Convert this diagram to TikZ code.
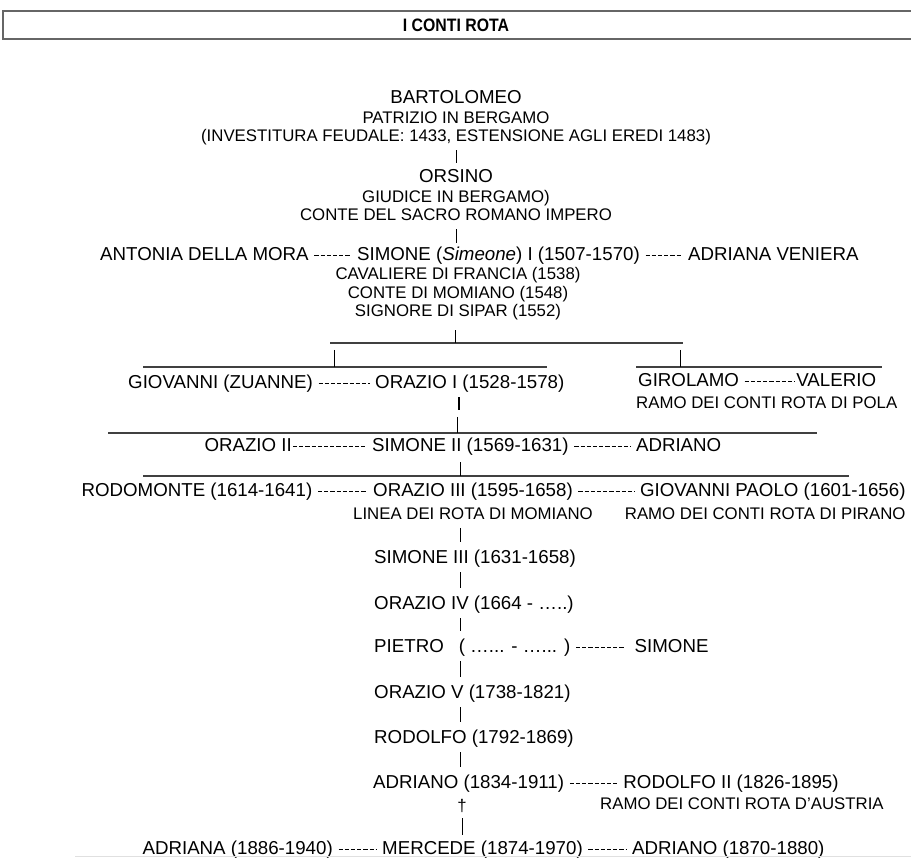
\documentclass[tikz,border=0pt]{standalone}
\usepackage{fontspec}
\setmainfont{Liberation Sans}
\usepackage{graphicx}
\usetikzlibrary{positioning}

\begin{document}
\begin{tikzpicture}[
  x=1pt,y=-1pt,
  person/.style={inner sep=0pt,text height=13.5pt,text depth=3.2pt,
    font=\fontsize{18.7}{22}\selectfont},
  note/.style={inner sep=0pt,text height=12.1pt,text depth=2.9pt,
    font=\fontsize{16.8}{20}\selectfont},
  heading/.style={inner sep=0pt,font=\fontsize{18}{21}\selectfont\bfseries},
  marriage/.style={line width=1pt,dash pattern=on 4.2pt off 2pt,
    shorten <=5.5pt,shorten >=5.5pt},
  link/.style={line width=0.9pt,shorten <=5pt,shorten >=8pt},
  heavylink/.style={line width=2.2pt},
  bar/.style={line width=1.3pt,draw=black!75}
]
  \useasboundingbox (0,0) rectangle (911,858);

  % title
  \draw[line width=1.2pt,draw=black!60] (3,11) rectangle (918,39);
  \node[heading] (title) at (456,25) {\scalebox{0.88}[1]{I CONTI ROTA}};

  % first generations
  \node[person] (bart) at (456,98.5) {BARTOLOMEO};
  \node[note] (bartpatr) at (456,118.5) {PATRIZIO IN BERGAMO};
  \node[note] (bartinv) at (456,136.5) {(INVESTITURA FEUDALE: 1433, ESTENSIONE AGLI EREDI 1483)};

  \node[person] (orsino) at (456,177.5) {ORSINO};
  \node[note] (orsgiud) at (456,197.5) {GIUDICE IN BERGAMO)};
  \node[note] (orsconte) at (456,215.5) {CONTE DEL SACRO ROMANO IMPERO};

  \node[person,anchor=west] (antonia) at (100,255.5) {ANTONIA DELLA MORA};
  \node[person,right=48pt of antonia] (simone1) {SIMONE (\textit{Simeone}) I (1507-1570)};
  \node[person,right=48pt of simone1] (adriana1) {ADRIANA VENIERA};
  \node[note] (simcav) at (458,274.5) {CAVALIERE DI FRANCIA (1538)};
  \node[note] (simmom) at (458,293.5) {CONTE DI MOMIANO (1548)};
  \node[note] (simsign) at (458,311.5) {SIGNORE DI SIPAR (1552)};

  % children of Simone I
  \node[person,anchor=west] (orazio1) at (375,383.5) {ORAZIO I (1528-1578)};
  \node[person,left=62pt of orazio1] (giovanni) {GIOVANNI (ZUANNE)};
  \node[person,anchor=west] (girolamo) at (638,381.5) {GIROLAMO};
  \node[person,right=57pt of girolamo] (valerio) {VALERIO};
  \node[note,anchor=west] (pola) at (636,403.5) {RAMO DEI CONTI ROTA DI POLA};

  \node[person,anchor=west] (simone2) at (372,446.5) {SIMONE II (1569-1631)};
  \node[person,left=80pt of simone2] (orazio2) {ORAZIO II};
  \node[person,right=67pt of simone2] (adriano1) {ADRIANO};

  \node[person,anchor=west] (orazio3) at (373,491.5) {ORAZIO III (1595-1658)};
  \node[person,left=60.5pt of orazio3] (rodomonte) {RODOMONTE (1614-1641)};
  \node[person,right=67pt of orazio3] (giovpaolo) {GIOVANNI PAOLO (1601-1656)};
  \node[note,below=7pt of orazio3] (linea) {LINEA DEI ROTA DI MOMIANO};
  \node[note,below=7pt of giovpaolo.south east,anchor=north east] (pirano) {RAMO DEI CONTI ROTA DI PIRANO};

  % line of Momiano
  \node[person,anchor=west] (simone3) at (374,558.5) {SIMONE III (1631-1658)};
  \node[person,anchor=west] (orazio4) at (374,604.5) {ORAZIO IV (1664 - …..)};
  \node[person,anchor=west] (pietro) at (374,647.5) {PIETRO\hspace{15pt}( …... - …... )};
  \node[person,right=64pt of pietro] (simonep) {SIMONE};
  \node[person,anchor=west] (orazio5) at (374,693.5) {ORAZIO V (1738-1821)};
  \node[person,anchor=west] (rodolfo) at (374,738.5) {RODOLFO (1792-1869)};
  \node[person,anchor=west] (adriano2) at (373,783.5) {ADRIANO (1834-1911)};
  \node[person,right=59pt of adriano2] (rodolfo2) {RODOLFO II (1826-1895)};
  \node[note,anchor=west] (austria) at (600,804.5) {RAMO DEI CONTI ROTA D'AUSTRIA};
  \node[note] (dagger) at (462,807) {†};

  \node[person,anchor=west] (mercede) at (382,849.5) {MERCEDE (1874-1970)};
  \node[person,left=49pt of mercede] (adriana2) {ADRIANA (1886-1940)};
  \node[person,right=49pt of mercede] (adriano3) {ADRIANO (1870-1880)};

  % sibling bars
  \coordinate (bar1w) at (330,343); \coordinate (bar1e) at (683,343);
  \coordinate (bar1drop) at (455,343);
  \coordinate (bar2w) at (143,367); \coordinate (bar2e) at (547,367);
  \coordinate (bar2drop) at (334,367);
  \coordinate (bar3w) at (636,367); \coordinate (bar3e) at (882,367);
  \coordinate (bar3drop) at (680,367);
  \coordinate (knot) at (459,410);
  \coordinate (bar4w) at (108,433); \coordinate (bar4e) at (817,433);
  \coordinate (bar4drop) at (457,433);
  \coordinate (bar5w) at (143,476); \coordinate (bar5e) at (849,476);
  \coordinate (bar5drop) at (460,476);
  \coordinate (spine) at (460,0);

  \draw[bar] (bar1w) -- (bar1e);
  \draw[bar] (bar2w) -- (bar2e);
  \draw[bar] (bar3w) -- (bar3e);
  \draw[bar] (bar4w) -- (bar4e);
  \draw[bar] (bar5w) -- (bar5e);

  % marriages and brothers
  \draw[marriage] (antonia) -- (simone1);
  \draw[marriage] (simone1) -- (adriana1);
  \draw[marriage] (giovanni) -- (orazio1);
  \draw[marriage,shorten >=1pt] (girolamo) -- (valerio);
  \draw[marriage,shorten <=1pt] (orazio2) -- (simone2);
  \draw[marriage] (simone2) -- (adriano1);
  \draw[marriage] (rodomonte) -- (orazio3);
  \draw[marriage] (orazio3) -- (giovpaolo);
  \draw[marriage,shorten >=10pt] (pietro) -- (simonep);
  \draw[marriage] (adriano2) -- (rodolfo2);
  \draw[marriage] (adriana2) -- (mercede);
  \draw[marriage] (mercede) -- (adriano3);

  % descent
  \draw[link,shorten <=6pt,shorten >=6pt] (bartinv) -- (orsino);
  \draw[link,shorten <=6pt,shorten >=4pt] (orsconte.south) -- (orsconte.south |- simone1.north);
  \draw[link,shorten <=11pt,shorten >=0pt] (simsign.south -| bar1drop) -- (bar1drop);
  \draw[link,shorten <=7pt,shorten >=0pt] (bar2drop |- bar1w) -- (bar2drop);
  \draw[link,shorten <=7pt,shorten >=0pt] (bar3drop |- bar1w) -- (bar3drop);
  \draw[heavylink,shorten <=5pt] (orazio1.south -| knot) -- (knot);
  \draw[link,shorten <=7pt,shorten >=0pt] (bar4drop |- knot) -- (bar4drop);
  \draw[link,shorten <=7pt,shorten >=0pt] (simone2.south -| bar5drop) -- (bar5drop);
  \draw[link,shorten <=5.5pt] (linea.south -| spine) -- (simone3.north -| spine);
  \draw[link] (simone3.south -| spine) -- (orazio4.north -| spine);
  \draw[link] (orazio4.south -| spine) -- (pietro.north -| spine);
  \draw[link] (pietro.south -| spine) -- (orazio5.north -| spine);
  \draw[link] (orazio5.south -| spine) -- (rodolfo.north -| spine);
  \draw[link] (rodolfo.south -| spine) -- (adriano2.north -| spine);
  \draw[link,shorten <=3.5pt,shorten >=6pt] (dagger.south) -- (dagger.south |- mercede.north);

  \draw[line width=0.8pt,draw=black!12] (75,856) -- (911,856);
\end{tikzpicture}
\end{document}
